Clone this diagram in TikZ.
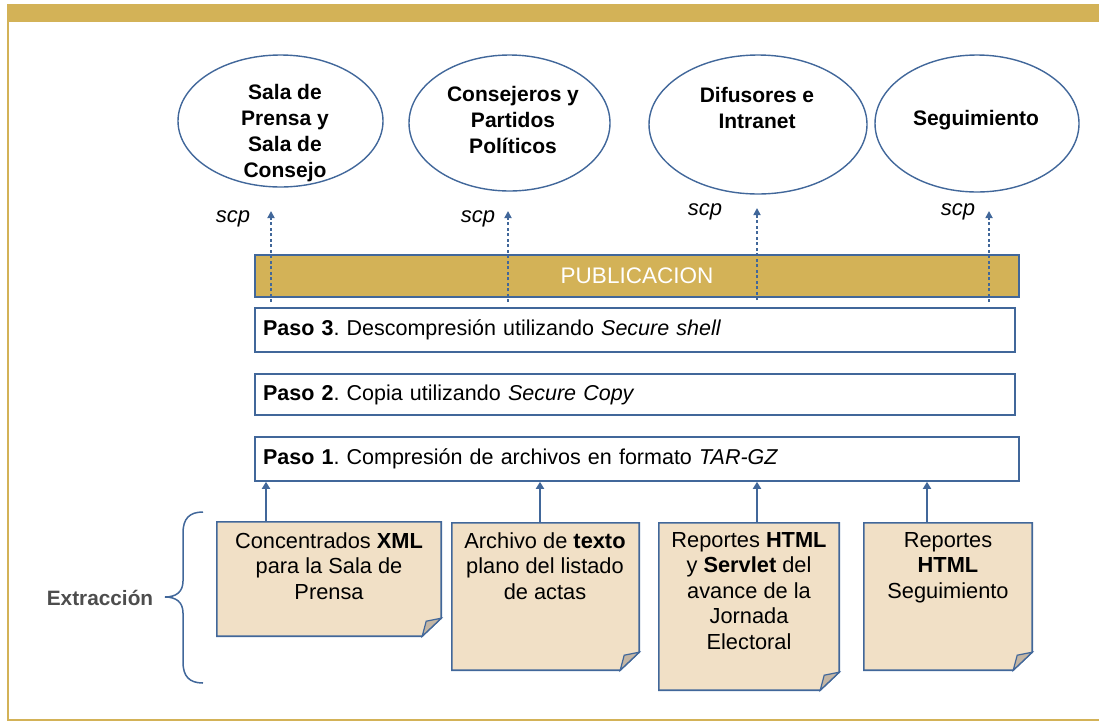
\documentclass[tikz,border=0pt]{standalone}
\usepackage{fontspec}
\setmainfont{Liberation Sans}
\usetikzlibrary{arrows.meta,shapes.geometric}
\frenchspacing
\definecolor{gold}{HTML}{D3B257}
\definecolor{bblue}{HTML}{41679A}
\definecolor{notefill}{HTML}{F1E0C6}
\definecolor{foldfill}{HTML}{C4B6A4}
\definecolor{extgray}{HTML}{4D4D4D}
\tikzset{
  ell/.style={draw=bblue, line width=1.4pt, ellipse, inner sep=0pt},
  elltext/.style={align=center, font=\bfseries\fontsize{21}{26}\selectfont, inner sep=0pt},
  scplabel/.style={font=\itshape\fontsize{22}{24}\selectfont, inner sep=0pt},
  dotarrow/.style={draw=bblue, line width=1.7pt, dash pattern=on 3pt off 2.5pt, -{Triangle[width=7pt,length=7pt]}},
  solidarrow/.style={draw=bblue, line width=1.8pt, -{Triangle[width=8pt,length=7pt]}},
  pubbar/.style={draw=bblue, line width=1.6pt, fill=gold, text=white, font=\fontsize{22.5}{24}\selectfont, inner sep=0pt},
  stepbox/.style={draw=bblue, line width=1.6pt, fill=white, minimum height=44pt, inner xsep=8pt, inner ysep=0pt, align=left, font=\fontsize{21.5}{24}\selectfont},
  notebox/.style={inner sep=0pt},
  noteline/.style={draw=bblue, line width=1.6pt, fill=notefill, line join=miter},
  foldline/.style={draw=bblue, line width=1.2pt, fill=foldfill},
  notetext/.style={align=center, font=\fontsize{21.8}{25.5}\selectfont, inner sep=0pt},
}
\newcommand{\dognote}[1]{%
  \path[noteline] (#1.north west) -- (#1.north east) -- ([yshift=18pt]#1.south east) -- ([xshift=-19pt]#1.south east) -- (#1.south west) -- cycle;
  \path[foldline] ([yshift=18pt]#1.south east) -- ([xshift=-19pt]#1.south east) -- ([xshift=-15pt,yshift=15pt]#1.south east) -- cycle;
}
\begin{document}
\begin{tikzpicture}[x=1pt,y=-1pt]
\useasboundingbox (0,0) rectangle (1099,721);
% frame
\fill[gold] (7,4) rectangle (1099,22);
\draw[gold, line width=2pt] (8,22) -- (8,719.5) -- (1099,719.5);

% ellipses
\node[ell, minimum width=205pt, minimum height=132pt] (e1) at (280.5,121) {};
\node[ell, minimum width=201pt, minimum height=136pt] (e2) at (509.5,123) {};
\node[ell, minimum width=218pt, minimum height=139pt] (e3) at (758,124.5) {};
\node[ell, minimum width=204pt, minimum height=137pt] (e4) at (977,123.5) {};
\node[elltext] (e1t) at (285,133) {Sala de\\Prensa y\\Sala de\\Consejo};
\node[elltext] (e2t) at (513,119.5) {Consejeros y\\Partidos\\Políticos};
\node[elltext] (e3t) at (757,108) {Difusores e\\Intranet};
\node[elltext] (e4t) at (976,120) {Seguimiento};

% publication bar and steps
\node[pubbar, minimum width=764pt, minimum height=42pt] (pub) at (637,276) {PUBLICACION};
\node[stepbox, text width=744pt] (p3) at (635,330) {\textbf{Paso 3}. Descompresión utilizando \textit{Secure shell}};
\node[stepbox, text width=744pt, minimum height=41pt] (p2) at (635,394.5) {\textbf{Paso 2}. Copia utilizando \textit{Secure Copy}};
\node[stepbox, text width=748pt] (p1) at (637,459) {\textbf{Paso 1}. Compresión de archivos en formato \textit{TAR-GZ}};

% scp dotted arrows
\coordinate (d1) at (271,211);
\coordinate (d2) at (508,211);
\coordinate (d3) at (757,208);
\coordinate (d4) at (989,211);
\draw[dotarrow] (d1 |- p3.north) ++(0,-5) -- (d1);
\draw[dotarrow] (d2 |- p3.north) ++(0,-5) -- (d2);
\draw[dotarrow] (d3 |- p3.north) ++(0,-7) -- (d3);
\draw[dotarrow] (d4 |- p3.north) ++(0,-5) -- (d4);
\node[scplabel] (s1) at (233,219) {scp};
\node[scplabel] (s2) at (478,219) {scp};
\node[scplabel] (s3) at (705,212) {scp};
\node[scplabel] (s4) at (958,212) {scp};

% notes
\node[notebox, minimum width=224pt, minimum height=114pt] (n1) at (329,579) {};
\node[notebox, minimum width=187pt, minimum height=147pt] (n2) at (545.5,596.5) {};
\node[notebox, minimum width=180pt, minimum height=167pt] (n3) at (749,606.5) {};
\node[notebox, minimum width=168pt, minimum height=147pt] (n4) at (948,596.5) {};
\dognote{n1}
\dognote{n2}
\dognote{n3}
\dognote{n4}
\node[notetext, anchor=north] (n1t) at (329,532) {Concentrados \textbf{XML}\\para la Sala de\\Prensa};
\node[notetext, anchor=north] (n2t) at (545,532) {Archivo de \textbf{texto}\\plano del listado\\de actas};
\node[notetext, anchor=north] (n3t) at (749,532) {Reportes \textbf{HTML}\\y \textbf{Servlet} del\\avance de la\\Jornada\\Electoral};
\node[notetext, anchor=north] (n4t) at (948,532) {Reportes\\\textbf{HTML}\\Seguimiento};

% solid arrows from notes to Paso 1
\coordinate (a1) at (266,0);
\coordinate (a2) at (540,0);
\coordinate (a3) at (757,0);
\coordinate (a4) at (927,0);
\draw[solidarrow] (a1 |- n1.north) -- (a1 |- p1.south);
\draw[solidarrow] (a2 |- n2.north) -- (a2 |- p1.south);
\draw[solidarrow] (a3 |- n3.north) -- (a3 |- p1.south);
\draw[solidarrow] (a4 |- n4.north) -- (a4 |- p1.south);

% brace and label
\draw[draw=bblue, line width=1.5pt] (203,512) .. controls (189,512) and (183,519) .. (183,533) -- (183,581) .. controls (183,592) and (176,597) .. (165,597) .. controls (176,597) and (183,602) .. (183,613) -- (183,662) .. controls (183,676) and (189,683) .. (203,683);
\node[font=\bfseries\fontsize{20.8}{24}\selectfont, text=extgray, inner sep=0pt] (ext) at (100,598) {Extracción};
\end{tikzpicture}
\end{document}
